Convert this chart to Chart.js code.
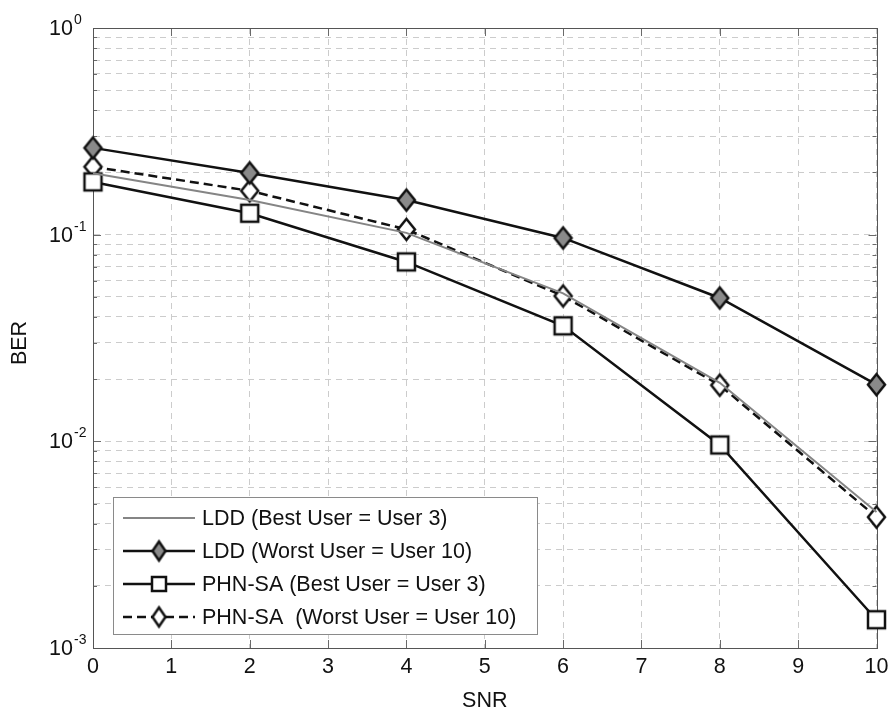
<!DOCTYPE html>
<html>
<head>
<meta charset="utf-8">
<script src="https://cdn.jsdelivr.net/npm/chart.js@4.4.0/dist/chart.umd.min.js"></script>
<style>
  html, body { margin: 0; padding: 0; background: #ffffff; }
  canvas { display: block; }
</style>
</head>
<body>
<canvas id="ber" width="889" height="712"></canvas>
<script>
// SNR points where BER was evaluated
const snr = [0, 2, 4, 6, 8, 10];

// Bit error rate per scheme / user
const lddBest   = [0.198, 0.147, 0.102, 0.052, 0.0192, 0.00455];
const lddWorst  = [0.263, 0.199, 0.147, 0.0964, 0.0494, 0.0188];
const phnBest   = [0.180, 0.127, 0.0738, 0.0362, 0.0096, 0.00137];
const phnWorst  = [0.213, 0.163, 0.106, 0.0505, 0.0187, 0.0043];

const seriesNames = [
  'LDD (Best User = User 3)',
  'LDD (Worst User = User 10)',
  'PHN-SA (Best User = User 3)',
  'PHN-SA  (Worst User = User 10)'
];

// Axis tick labels
const xTickValues = [0, 1, 2, 3, 4, 5, 6, 7, 8, 9, 10];
const yDecades = [0, -1, -2, -3];

const FONT = "'Liberation Sans', Arial, sans-serif";

function makeMarker(kind, w, h, fill, lw) {
  const pad = Math.ceil(lw) + 1;
  const c = document.createElement('canvas');
  c.width = w + 2 * pad;
  c.height = h + 2 * pad;
  const g = c.getContext('2d');
  const cx = c.width / 2, cy = c.height / 2;
  g.beginPath();
  if (kind === 'diamond') {
    g.moveTo(cx, cy - h / 2);
    g.lineTo(cx + w / 2, cy);
    g.lineTo(cx, cy + h / 2);
    g.lineTo(cx - w / 2, cy);
    g.closePath();
  } else {
    g.rect(cx - w / 2, cy - h / 2, w, h);
  }
  g.fillStyle = fill;
  g.fill();
  g.lineWidth = lw;
  g.strokeStyle = '#111111';
  g.stroke();
  return c;
}

const grayDiamond = makeMarker('diamond', 17, 21, '#8a8a8a', 2.5);
const openDiamond = makeMarker('diamond', 17, 21, '#ffffff', 2.5);
const openSquare  = makeMarker('square', 17, 17, '#ffffff', 2.5);
const grayDiamondSmall = makeMarker('diamond', 13, 19, '#8a8a8a', 2.5);
const openDiamondSmall = makeMarker('diamond', 13, 19, '#ffffff', 2.5);
const openSquareSmall  = makeMarker('square', 14, 14, '#ffffff', 2.5);

const toPoints = ys => snr.map((x, i) => ({ x: x, y: ys[i] }));

const datasets = [
  {
    label: seriesNames[0], data: toPoints(lddBest),
    borderColor: '#858585', borderWidth: 2, pointRadius: 0, pointHoverRadius: 0,
    legendMarker: null, legendDash: []
  },
  {
    label: seriesNames[1], data: toPoints(lddWorst),
    borderColor: '#111111', borderWidth: 2.5,
    pointStyle: grayDiamond, pointRadius: 10, pointHoverRadius: 10,
    legendMarker: grayDiamondSmall, legendDash: []
  },
  {
    label: seriesNames[2], data: toPoints(phnBest),
    borderColor: '#111111', borderWidth: 2.5,
    pointStyle: openSquare, pointRadius: 10, pointHoverRadius: 10,
    legendMarker: openSquareSmall, legendDash: []
  },
  {
    label: seriesNames[3], data: toPoints(phnWorst),
    borderColor: '#111111', borderWidth: 2.5, borderDash: [9, 5],
    pointStyle: openDiamond, pointRadius: 10, pointHoverRadius: 10,
    legendMarker: openDiamondSmall, legendDash: [9, 5]
  }
];
datasets.forEach(d => { d.fill = false; d.tension = 0; d.clip = false; d.backgroundColor = '#ffffff'; });

// Box, inward ticks and axis text, MATLAB-style
const frameAndLabels = {
  id: 'frameAndLabels',
  beforeDatasetsDraw(chart) {
    const { ctx, chartArea: a, scales } = chart;
    const xs = scales.x, ys = scales.y;
    ctx.save();
    ctx.strokeStyle = '#6a6a6a';
    ctx.lineWidth = 1;
    ctx.beginPath();
    xTickValues.forEach(v => {
      const px = Math.round(xs.getPixelForValue(v)) + 0.5;
      ctx.moveTo(px, a.bottom); ctx.lineTo(px, a.bottom - 8);
      ctx.moveTo(px, a.top); ctx.lineTo(px, a.top + 8);
    });
    ys.ticks.forEach(t => {
      const py = Math.round(ys.getPixelForValue(t.value)) + 0.5;
      const len = t.major ? 8 : 4;
      ctx.moveTo(a.left, py); ctx.lineTo(a.left + len, py);
      ctx.moveTo(a.right, py); ctx.lineTo(a.right - len, py);
    });
    ctx.stroke();
    ctx.strokeStyle = '#555555';
    ctx.strokeRect(Math.round(a.left) + 0.5, Math.round(a.top) + 0.5,
                   Math.round(a.right - a.left), Math.round(a.bottom - a.top));
    ctx.restore();
  },
  afterDraw(chart) {
    const { ctx, chartArea: a, scales } = chart;
    const xs = scales.x, ys = scales.y;
    ctx.save();
    ctx.fillStyle = '#111111';

    // x tick labels
    ctx.font = '21.5px ' + FONT;
    ctx.textAlign = 'center';
    ctx.textBaseline = 'middle';
    xTickValues.forEach(v => ctx.fillText(String(v), xs.getPixelForValue(v), a.bottom + 19));

    // y tick labels 10^n
    yDecades.forEach(e => {
      const py = ys.getPixelForValue(Math.pow(10, e));
      ctx.font = '21.5px ' + FONT;
      ctx.textAlign = 'right';
      ctx.textBaseline = 'alphabetic';
      ctx.fillText('10', 73, py + 7);
      ctx.font = '14px ' + FONT;
      ctx.textAlign = 'left';
      ctx.fillText(String(e), 74, py - 4);
    });

    // axis titles
    ctx.font = '21.5px ' + FONT;
    ctx.textAlign = 'center';
    ctx.textBaseline = 'middle';
    ctx.fillText('SNR', (a.left + a.right) / 2, 701);
    ctx.save();
    ctx.translate(20, 343);
    ctx.rotate(-Math.PI / 2);
    ctx.fillText('BER', 0, 0);
    ctx.restore();

    // legend
    const bx = 113, by = 497, bw = 424, bh = 137;
    ctx.fillStyle = '#ffffff';
    ctx.fillRect(bx, by, bw, bh);
    ctx.strokeStyle = '#8a8a8a';
    ctx.lineWidth = 1;
    ctx.strokeRect(bx + 0.5, by + 0.5, bw, bh);
    chart.data.datasets.forEach((d, i) => {
      const ry = 518 + 33 * i;
      ctx.save();
      ctx.strokeStyle = d.borderColor;
      ctx.lineWidth = d.borderWidth;
      ctx.setLineDash(d.legendDash);
      ctx.beginPath();
      ctx.moveTo(123, ry);
      ctx.lineTo(195, ry);
      ctx.stroke();
      ctx.restore();
      if (d.legendMarker) {
        const m = d.legendMarker;
        ctx.drawImage(m, 159 - m.width / 2, ry - m.height / 2);
      }
      ctx.fillStyle = '#111111';
      ctx.font = '21.5px ' + FONT;
      ctx.textAlign = 'left';
      ctx.textBaseline = 'middle';
      ctx.fillText(d.label, 202, ry + 1);
    });
    ctx.restore();
  }
};

const gridStyle = { color: '#cccccc', lineWidth: 1, drawTicks: false };

new Chart(document.getElementById('ber'), {
  type: 'line',
  data: { datasets: datasets },
  options: {
    responsive: false,
    animation: false,
    events: [],
    layout: { padding: { left: 0, top: 28, right: 11, bottom: 0 } },
    plugins: { legend: { display: false }, tooltip: { enabled: false } },
    scales: {
      x: {
        type: 'linear', min: 0, max: 10,
        ticks: { display: false, stepSize: 1 },
        grid: gridStyle,
        border: { display: true, color: '#555555', width: 1, dash: [6, 5] },
        afterFit: s => { s.height = 64; }
      },
      y: {
        type: 'logarithmic', min: 0.001, max: 1,
        ticks: { display: false, autoSkip: false },
        grid: gridStyle,
        border: { display: true, color: '#555555', width: 1, dash: [6, 5] },
        afterBuildTicks: s => {
          const t = [];
          for (let e = -3; e < 0; e++) {
            for (let m = 1; m <= 9; m++) t.push({ value: m * Math.pow(10, e), major: m === 1 });
          }
          t.push({ value: 1, major: true });
          s.ticks = t;
        },
        afterFit: s => { s.width = 93; }
      }
    }
  },
  plugins: [frameAndLabels]
});
</script>
</body>
</html>
